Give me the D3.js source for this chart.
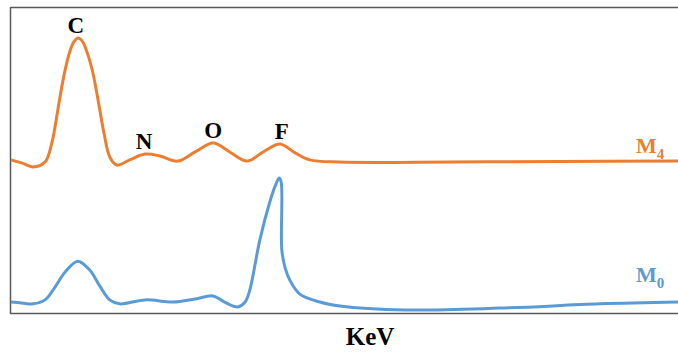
<!DOCTYPE html>
<html>
<head>
<meta charset="utf-8">
<script src="https://cdn.jsdelivr.net/npm/d3@7/dist/d3.min.js"></script>
<style>
  html, body { margin: 0; padding: 0; background: #fff; }
  svg { display: block; }
  text { font-family: "Liberation Serif", "Times New Roman", serif; font-weight: bold; }
</style>
</head>
<body>
<svg id="chart" width="678" height="355"></svg>
<script>
// Energy axis (arbitrary units, 0-100 across the frame) and intensities (0-100)
const m4Energy = [0, 1.6, 3.3, 5.1, 6.15, 7.05, 7.95, 8.85, 9.45, 10.04, 10.64, 11.24, 12.14, 13.04, 13.94, 14.84, 15.9, 17.8, 20.1, 22.3, 25.0, 27.6, 30.3, 32.8, 35.4, 37.8, 40.3, 42.6, 44.8, 49.3, 65.8, 82.3, 100];
const m4Counts = [50.2, 49.2, 47.9, 49.5, 56.0, 67.0, 78.0, 86.0, 89.0, 90.2, 89.3, 86.5, 80.0, 70.0, 59.0, 51.0, 48.5, 50.2, 52.1, 51.5, 49.8, 52.8, 55.7, 52.8, 49.8, 52.8, 55.4, 52.5, 50.2, 49.5, 49.5, 49.7, 49.8];

const m0Energy = [0, 1.6, 3.3, 5.1, 6.6, 8.1, 10.0, 11.8, 13.3, 14.8, 16.3, 20.1, 24.3, 27.6, 30.3, 32.0, 34.0, 35.1, 35.8, 37.3, 38.8, 39.6, 40.2, 40.5, 40.6, 41.1, 41.8, 43.3, 46.3, 49.3, 59.1, 73.3, 88.3, 100];
const m0Counts = [3.6, 3.3, 3.0, 4.3, 8.5, 13.4, 17.0, 14.1, 8.9, 4.3, 3.0, 4.3, 3.6, 4.6, 5.6, 3.6, 2.0, 3.6, 7.5, 23.9, 36.4, 41.6, 44.3, 43.0, 20.7, 14.8, 10.8, 6.2, 3.6, 2.3, 1.0, 1.6, 3.0, 3.6];

const peakLabels = ["C", "N", "O", "F"];
const peakEnergy = [10.0, 20.1, 30.3, 40.3];
const peakCounts = [90.2, 52.1, 55.7, 55.4];

const seriesNames = ["M", "M"];
const seriesSubs = ["4", "0"];
const xLabel = "KeV";

const orange = "#ED7D31", blue = "#5B9BD5";

const svg = d3.select("#chart");
const x = d3.scaleLinear().domain([0, 100]).range([11, 678]);
const y = d3.scaleLinear().domain([0, 100]).range([313, 8]);

// frame
const frame = "#595959";
svg.append("line").attr("x1", 10.5).attr("x2", 678).attr("y1", 7.5).attr("y2", 7.5).attr("stroke", frame).attr("stroke-width", 1.5);
svg.append("line").attr("x1", 10.5).attr("x2", 678).attr("y1", 313.5).attr("y2", 313.5).attr("stroke", frame).attr("stroke-width", 1.5);
svg.append("line").attr("x1", 10.5).attr("x2", 10.5).attr("y1", 7).attr("y2", 314).attr("stroke", frame).attr("stroke-width", 1.5);

const line = d3.line().x(d => x(d[0])).y(d => y(d[1])).curve(d3.curveCatmullRom.alpha(0.5));

const m4 = m4Energy.map((e, i) => [e, m4Counts[i]]);
const m0 = m0Energy.map((e, i) => [e, m0Counts[i]]);

svg.append("path").datum(m0).attr("d", line).attr("fill", "none").attr("stroke", blue).attr("stroke-width", 3).attr("stroke-linejoin", "round");
svg.append("path").datum(m4).attr("d", line).attr("fill", "none").attr("stroke", orange).attr("stroke-width", 3).attr("stroke-linejoin", "round");

// peak labels
const labelDx = [-2, -1, 0, 2];
svg.selectAll("text.peak").data(peakLabels).enter().append("text")
  .attr("class", "peak")
  .attr("x", (d, i) => x(peakEnergy[i]) + labelDx[i])
  .attr("y", (d, i) => y(peakCounts[i]) - 5)
  .attr("text-anchor", "middle")
  .attr("font-size", 23)
  .attr("fill", "#000")
  .text(d => d);

// series labels
const seriesY = [153, 282];
const seriesCol = [orange, blue];
seriesNames.forEach((n, i) => {
  const t = svg.append("text").attr("x", 636).attr("y", seriesY[i]).attr("font-size", 22).attr("fill", seriesCol[i]);
  t.append("tspan").text(n);
  t.append("tspan").attr("font-size", 15).attr("dy", 6).text(seriesSubs[i]);
});

// x label
svg.append("text").attr("x", 370).attr("y", 345).attr("text-anchor", "middle").attr("font-size", 25).attr("fill", "#000").text(xLabel);
</script>
</body>
</html>
